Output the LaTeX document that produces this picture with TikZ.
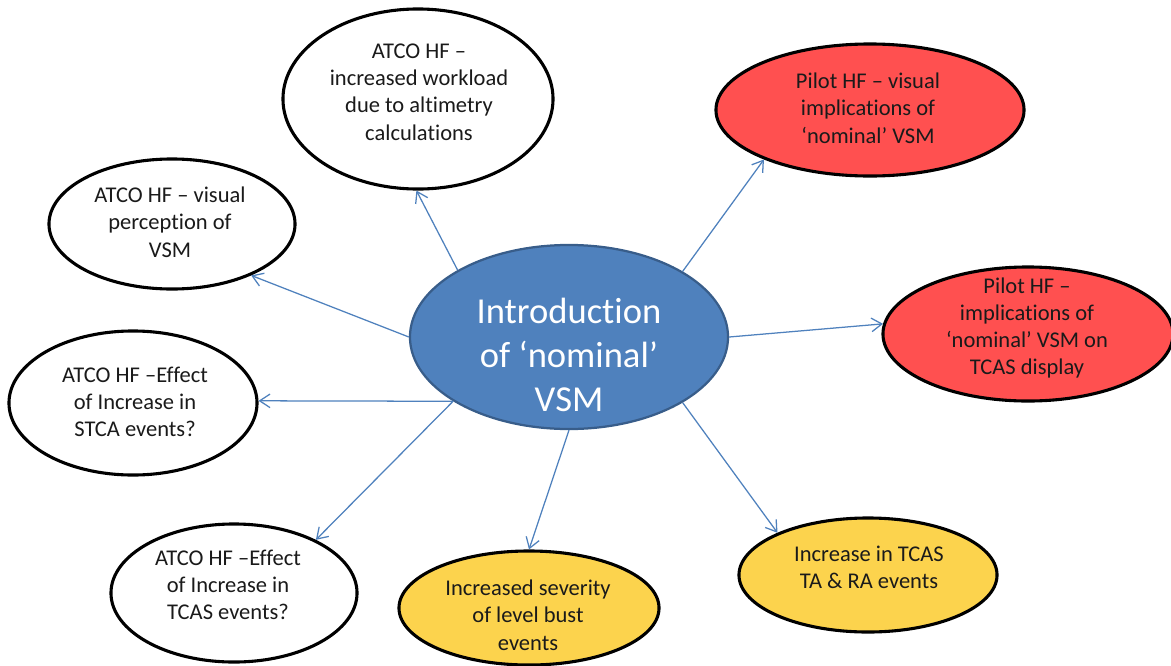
\documentclass[tikz,border=0pt]{standalone}
\usepackage{fontspec}
\setmainfont{Carlito}[Ligatures={NoCommon}]
\usepackage{xcolor}
\usetikzlibrary{shapes.geometric, arrows.meta, positioning}
\definecolor{vsmblue}{RGB}{79, 129, 189}
\definecolor{vsmedge}{RGB}{56, 93, 138}
\definecolor{pilotred}{RGB}{255, 80, 80}
\definecolor{eventyellow}{RGB}{252, 211, 77}
\definecolor{textgrey}{RGB}{26, 26, 26}

\begin{document}
\begin{tikzpicture}[
    x=0.025cm, y=-0.025cm,
    bubble/.style={ellipse, draw=black, line width=2.2pt, fill=#1, inner sep=0pt},
    hub/.style={ellipse, draw=vsmedge, line width=1.6pt, fill=vsmblue, inner sep=0pt, minimum width=7.95cm, minimum height=4.6cm},
    txt/.style={align=center, text=textgrey, font=\fontsize{16}{19.4}\selectfont},
    link/.style={->, draw=vsmblue, line width=0.9pt, >={Straight Barb[length=2.6mm, width=3.4mm]}}
]
\useasboundingbox (0,0) rectangle (1171,665);

% Central topic
\node[hub] (vsm) at (569,337) {};
\node[align=center, text=white, font=\fontsize{26}{31.5}\selectfont] (vsmtxt) at (569,355) {Introduction\\of ‘nominal’\\VSM};

% ATCO human factors
\node[bubble=white, minimum width=6.75cm, minimum height=4.5cm] (workload) at (418,99) {};
\node[txt] (workloadtxt) at (419,92) {ATCO HF –\\increased workload\\due to altimetry\\calculations};
\node[bubble=white, minimum width=6.15cm, minimum height=3.25cm] (visual) at (172,224) {};
\node[txt] (visualtxt) at (170,222) {ATCO HF – visual\\perception of\\VSM};
\node[bubble=white, minimum width=6.2cm, minimum height=3.6cm] (stca) at (133,403) {};
\node[txt] (stcatxt) at (135,402) {ATCO HF –Effect\\of Increase in\\STCA events?};
\node[bubble=white, minimum width=6.15cm, minimum height=3.45cm] (tcasev) at (234,593) {};
\node[txt] (tcasevtxt) at (228,585) {ATCO HF –Effect\\of Increase in\\TCAS events?};

% Pilot human factors
\node[bubble=pilotred, minimum width=7.7cm, minimum height=3.3cm] (pilotvis) at (870,110) {};
\node[txt] (pilotvistxt) at (868,108) {Pilot HF – visual\\implications of\\‘nominal’ VSM};
\node[bubble=pilotred, minimum width=7.25cm, minimum height=3.35cm] (pilottcas) at (1028,334) {};
\node[txt] (pilottcastxt) at (1027,328) {Pilot HF –\\implications of\\‘nominal’ VSM on\\TCAS display};

% Events
\node[bubble=eventyellow, minimum width=6.5cm, minimum height=2.85cm] (levelbust) at (529,608) {};
\node[txt] (levelbusttxt) at (528,615) {Increased severity\\of level bust\\events};
\node[bubble=eventyellow, minimum width=6.45cm, minimum height=2.85cm] (tara) at (868,575) {};
\node[txt] (taratxt) at (869,567) {Increase in TCAS\\TA \& RA events};

% Arrows
\draw[link] (vsm.149.6) -- (workload.269.5);
\draw[link] (vsm.180) -- (visual.-33);
\draw[link] (vsm.209.7) -- (stca.1);
\draw[link] (vsm.209.7) -- (tcasev.33.5);
\draw[link] (vsm.270.5) -- (levelbust.90.5);
\draw[link] (vsm.330) -- (tara.155);
\draw[link] (vsm.0) -- (pilottcas.176.5);
\draw[link] (vsm.30) -- (pilotvis.205);

\end{tikzpicture}
\end{document}
